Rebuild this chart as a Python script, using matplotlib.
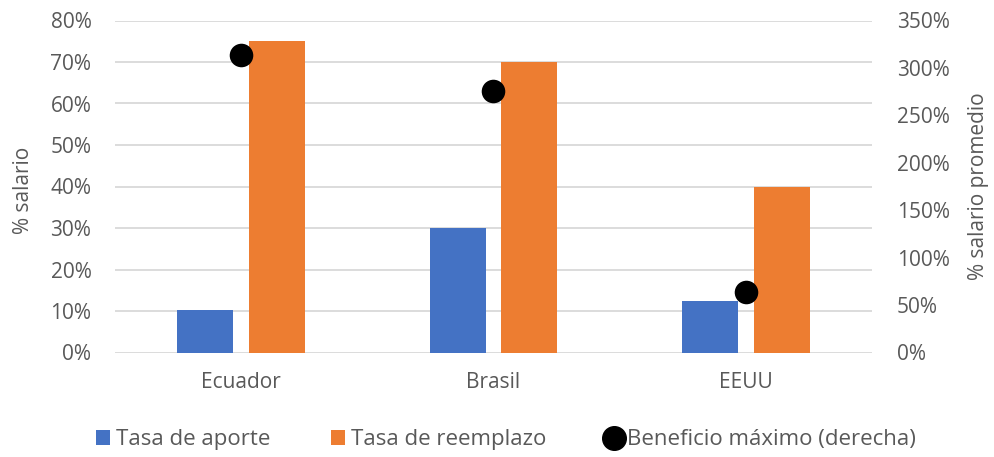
import matplotlib
matplotlib.use("Agg")
import matplotlib.pyplot as plt
import numpy as np
from matplotlib.ticker import FuncFormatter
from matplotlib.lines import Line2D
from matplotlib.patches import Patch

plt.rcParams['font.family'] = ['Open Sans', 'DejaVu Sans']

paises = ["Ecuador", "Brasil", "EEUU"]
tasa_aporte = [10.3, 30.0, 12.3]
tasa_reemplazo = [75.0, 70.0, 40.0]
beneficio_maximo = [313.5, 275.5, 64.0]

AZUL = "#4472C4"
NARANJA = "#ED7D31"
GRIS_TXT = "#595959"
GRIS_GRID = "#D9D9D9"
FS = 15

W, H = 995, 457
fig = plt.figure(figsize=(W / 100, H / 100), dpi=100)
ax = fig.add_axes([115 / W, 1 - 352.5 / H, 757 / W, 332 / H])
ax2 = ax.twinx()

x = np.arange(len(paises))
ancho = 0.222
sep = 0.063
ax.bar(x - (ancho + sep) / 2, tasa_aporte, ancho, color=AZUL, zorder=2)
ax.bar(x + (ancho + sep) / 2, tasa_reemplazo, ancho, color=NARANJA, zorder=2)
ax2.scatter(x, beneficio_maximo, s=24 ** 2 * 0.5, color="black", zorder=3, linewidths=0)

ax.set_xlim(-0.5, len(paises) - 0.5)
ax.set_ylim(0, 80)
ax.set_yticks(np.arange(0, 81, 10))
ax2.set_ylim(0, 350)
ax2.set_yticks(np.arange(0, 351, 50))

pct = FuncFormatter(lambda v, _: f"{v:.0f}%")
ax.yaxis.set_major_formatter(pct)
ax2.yaxis.set_major_formatter(pct)

ax.grid(axis="y", color=GRIS_GRID, linewidth=1.3, zorder=0)
ax.set_axisbelow(True)
for a in (ax, ax2):
    for s in a.spines.values():
        s.set_visible(False)
    a.tick_params(length=0, labelsize=FS, labelcolor=GRIS_TXT)
ax.tick_params(axis="y", pad=17)
ax2.tick_params(axis="y", pad=18)
ax.tick_params(axis="x", pad=14)
ax.set_xticks(x)
ax.set_xticklabels(paises)

# axis titles
fig.text(23.5 / W, 1 - 190 / H, "% salario", rotation=90, ha="center", va="center",
         fontsize=FS, color=GRIS_TXT)
fig.text(979 / W, 1 - 186 / H, "% salario promedio", rotation=90, ha="center", va="center",
         fontsize=FS, color=GRIS_TXT)

handles = [
    Patch(facecolor=AZUL, label="Tasa de aporte"),
    Patch(facecolor=NARANJA, label="Tasa de reemplazo"),
    Line2D([], [], marker="o", linestyle="none", markersize=17, color="black",
           label="Beneficio máximo (derecha)"),
]
leg = fig.legend(handles=handles, loc="center", bbox_to_anchor=(506 / W, 1 - 440 / H),
                 ncol=3, frameon=False, fontsize=16, handlelength=0.62, handleheight=0.62,
                 handletextpad=0.3, columnspacing=2.7)
for t in leg.get_texts():
    t.set_color(GRIS_TXT)

fig.savefig("out.png", dpi=100)
